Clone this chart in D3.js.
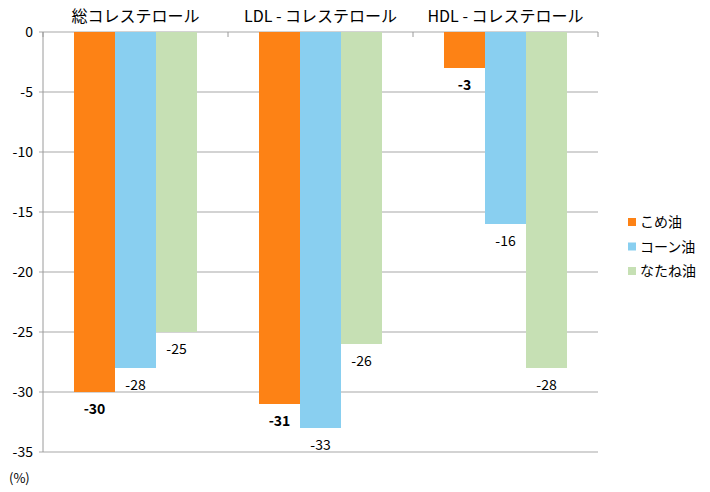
<!DOCTYPE html>
<html>
<head>
<meta charset="utf-8">
<script src="https://cdn.jsdelivr.net/npm/d3@7"></script>
<style>
  body { margin: 0; background: #fff; }
  svg text { font-family: "Noto Sans CJK JP", "Noto Sans", sans-serif; fill: #000; }
</style>
</head>
<body>
<div id="chart"></div>
<script>
// data
const categories = ["総コレステロール", "LDL - コレステロール", "HDL - コレステロール"];
const seriesNames = ["こめ油", "コーン油", "なたね油"];
const komeValues = [-30, -31, -3];
const cornValues = [-28, -33, -16];
const nataneValues = [-25, -26, -28];
const yTicks = [0, -5, -10, -15, -20, -25, -30, -35];
const seriesColors = ["#fd8215", "#89cff0", "#c6e0b4"];

const seriesValues = [komeValues, cornValues, nataneValues];
const width = 710, height = 492;
const plotLeft = 43, plotRight = 598, plotTop = 32, plotBottom = 452;

const svg = d3.select("#chart").append("svg")
  .attr("width", width)
  .attr("height", height);

const x0 = d3.scaleBand().domain(categories).range([plotLeft, plotRight]).padding(0);
const x1 = d3.scaleBand().domain(seriesNames).range([0, x0.bandwidth()])
  .paddingInner(0).paddingOuter(0.756);
const y = d3.scaleLinear().domain([0, -35]).range([plotTop, plotBottom]);
const color = d3.scaleOrdinal().domain(seriesNames).range(seriesColors);

// gridlines
svg.append("g")
  .selectAll("line")
  .data(yTicks)
  .join("line")
  .attr("x1", plotLeft - 4)
  .attr("x2", plotRight)
  .attr("y1", d => y(d))
  .attr("y2", d => y(d))
  .attr("stroke", "#c4c4c4")
  .attr("stroke-width", 1.5);

// y axis labels
svg.append("g")
  .selectAll("text")
  .data(yTicks)
  .join("text")
  .attr("x", 33)
  .attr("y", d => y(d) + 5)
  .attr("text-anchor", "end")
  .style("font-size", "14px")
  .text(d => d);

svg.append("line")
  .attr("x1", plotLeft).attr("x2", plotLeft)
  .attr("y1", plotTop).attr("y2", plotBottom)
  .attr("stroke", "#9a9a9a");

// bars
const flat = [];
categories.forEach((c, i) => {
  seriesNames.forEach((s, j) => {
    flat.push({cat: c, series: s, value: seriesValues[j][i], bold: j === 0});
  });
});

svg.append("g")
  .selectAll("rect")
  .data(flat)
  .join("rect")
  .attr("x", d => x0(d.cat) + x1(d.series))
  .attr("y", y(0))
  .attr("width", x1.bandwidth())
  .attr("height", d => y(d.value) - y(0))
  .attr("fill", d => color(d.series));

// value labels
svg.append("g")
  .selectAll("text")
  .data(flat)
  .join("text")
  .attr("x", d => x0(d.cat) + x1(d.series) + x1.bandwidth() / 2)
  .attr("y", d => y(d.value) + 22)
  .attr("text-anchor", "middle")
  .style("font-size", "14px")
  .style("font-weight", d => d.bold ? "bold" : "normal")
  .text(d => d.value);

// category axis at zero with small ticks
svg.append("g")
  .selectAll("line")
  .data(categories.map(c => x0(c)).concat([plotRight]))
  .join("line")
  .attr("x1", d => d).attr("x2", d => d)
  .attr("y1", plotTop).attr("y2", plotTop + 5)
  .attr("stroke", "#9a9a9a");

// category titles
svg.append("g")
  .selectAll("text")
  .data(categories)
  .join("text")
  .attr("x", d => x0(d) + x0.bandwidth() / 2)
  .attr("y", 22)
  .attr("text-anchor", "middle")
  .style("font-size", "16px")
  .text(d => d);

// unit
svg.append("text")
  .attr("x", 9)
  .attr("y", 483)
  .style("font-size", "13px")
  .text("(%)");

// legend
const legend = svg.append("g")
  .selectAll("g")
  .data(seriesNames)
  .join("g")
  .attr("transform", (d, i) => `translate(628, ${222 + i * 24.5})`);

legend.append("rect")
  .attr("x", 0).attr("y", -4)
  .attr("width", 8).attr("height", 8)
  .attr("fill", d => color(d));

legend.append("text")
  .attr("x", 12)
  .attr("y", 5)
  .style("font-size", "14px")
  .text(d => d);
</script>
</body>
</html>
